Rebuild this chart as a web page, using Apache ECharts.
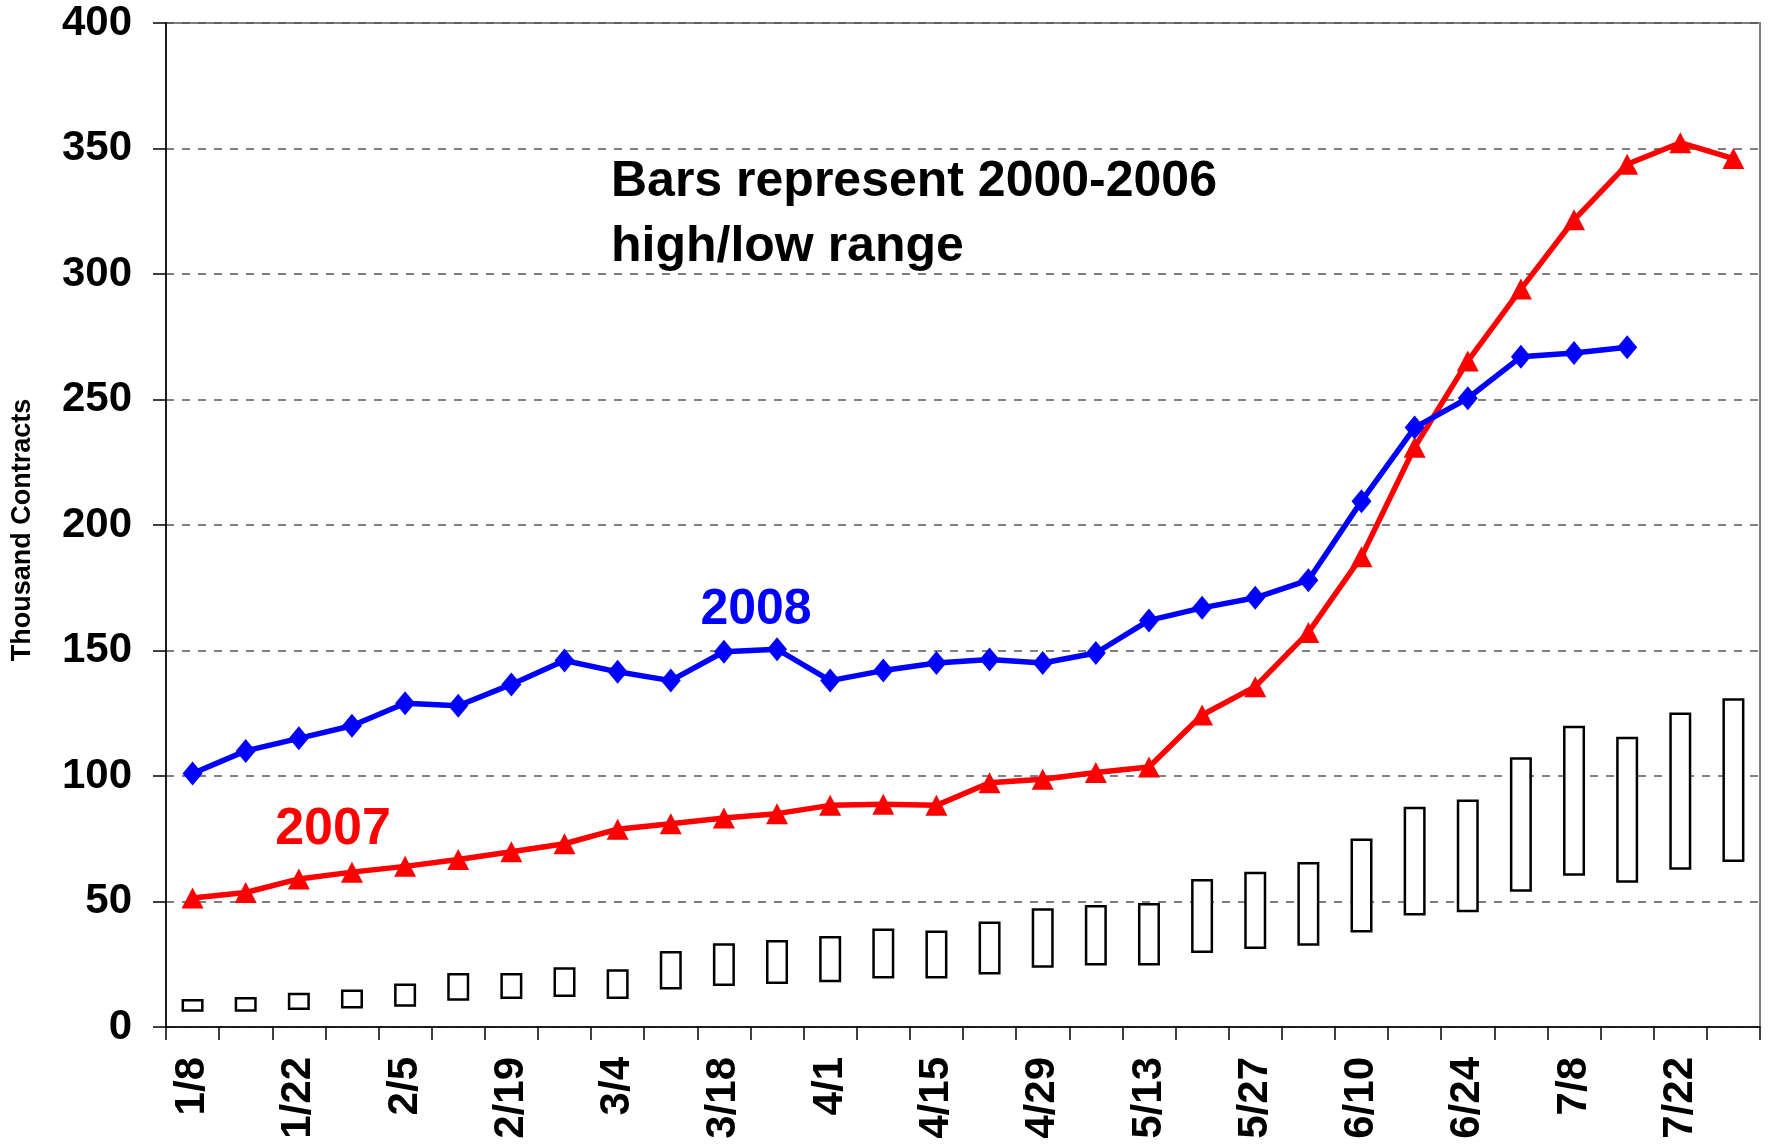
<!DOCTYPE html>
<html>
<head>
<meta charset="utf-8">
<script src="https://cdn.jsdelivr.net/npm/echarts@6/dist/echarts.min.js"></script>
<style>
  html, body { margin: 0; padding: 0; background: #fff; }
  #chart { width: 1771px; height: 1144px; }
</style>
</head>
<body>
<div id="chart"></div>
<script>
// weekly dates
const weeks = ['1/8', '1/15', '1/22', '1/29', '2/5', '2/12', '2/19', '2/26', '3/4', '3/11',
  '3/18', '3/25', '4/1', '4/8', '4/15', '4/22', '4/29', '5/6', '5/13', '5/20',
  '5/27', '6/3', '6/10', '6/17', '6/24', '7/1', '7/8', '7/15', '7/22', '7/29'];

// 2000-2006 high/low range
const rangeLow = [6.1, 6.1, 6.8, 7.4, 8.1, 10.5, 11.2, 12.0, 11.2, 14.9,
  16.3, 17.1, 17.8, 19.3, 19.3, 20.9, 23.6, 24.5, 24.5, 29.5,
  31.1, 32.4, 37.6, 44.4, 45.7, 53.9, 60.3, 57.5, 62.6, 65.7];
const rangeHigh = [11.2, 12.0, 13.6, 14.9, 17.3, 21.5, 21.5, 23.8, 23.0, 30.3,
  33.4, 34.7, 36.3, 39.2, 38.4, 42.0, 47.3, 48.6, 49.4, 59.0,
  61.9, 65.7, 75.1, 87.7, 90.6, 107.5, 120.0, 115.6, 125.3, 131.0];

const y2007 = [51.4, 53.6, 59, 61.7, 64, 66.7, 69.8, 73, 78.8, 81,
  83.3, 85, 88.3, 88.7, 88.3, 97.3, 98.7, 101.4, 103.6, 124.3,
  135.6, 157.2, 187.4, 231, 265.3, 294, 321.6, 343.7, 352.3, 346];
const y2008 = [101, 110, 115, 120, 129, 128, 136.5, 146, 141.5, 138,
  149.5, 150.5, 138, 142, 145, 146.4, 145, 149, 162, 167,
  171, 178, 209.5, 238.8, 250.5, 267, 268.5, 270.8, null, null];

const yTicks = { min: 0, max: 400, interval: 50 };

const FONT = 'Liberation Sans, Arial, sans-serif';

const chart = echarts.init(document.getElementById('chart'));

chart.setOption({
  animation: false,
  backgroundColor: '#fff',
  grid: {
    left: 166,
    right: 11,
    top: 23,
    bottom: 117,
    show: true,
    borderColor: '#808080',
    borderWidth: 2
  },
  xAxis: {
    type: 'category',
    data: weeks,
    boundaryGap: true,
    axisLine: { lineStyle: { color: '#000', width: 1.5 } },
    axisTick: { show: true, interval: 0, length: 13, lineStyle: { color: '#000', width: 1.5 } },
    axisLabel: {
      interval: 1,
      rotate: 90,
      margin: 30,
      color: '#000',
      fontSize: 42,
      fontWeight: 'bold',
      fontFamily: FONT
    },
    splitLine: { show: false }
  },
  yAxis: {
    type: 'value',
    min: yTicks.min,
    max: yTicks.max,
    interval: yTicks.interval,
    axisLine: { show: true, lineStyle: { color: '#000', width: 1.5 } },
    axisTick: { show: true, length: 13, lineStyle: { color: '#000', width: 1.5 } },
    axisLabel: {
      margin: 34,
      color: '#000',
      fontSize: 42,
      fontWeight: 'bold',
      fontFamily: FONT
    },
    splitLine: {
      show: true,
      lineStyle: { color: '#555', width: 1.5, type: [8, 8] }
    }
  },
  graphic: [
    {
      type: 'text', x: 23, y: 530, rotation: Math.PI / 2,
      style: {
        text: 'Thousand Contracts', fill: '#000',
        font: 'bold 27px ' + FONT, align: 'center', verticalAlign: 'middle'
      }
    },
    {
      type: 'text', x: 611, y: 182,
      style: {
        text: 'Bars represent 2000-2006', fill: '#000',
        font: 'bold 50px ' + FONT, align: 'left', verticalAlign: 'middle'
      }
    },
    {
      type: 'text', x: 611, y: 247,
      style: {
        text: 'high/low range', fill: '#000',
        font: 'bold 50px ' + FONT, align: 'left', verticalAlign: 'middle'
      }
    },
    {
      type: 'text', x: 756, y: 610,
      style: {
        text: '2008', fill: '#0000ff',
        font: 'bold 50px ' + FONT, align: 'center', verticalAlign: 'middle'
      }
    },
    {
      type: 'text', x: 333, y: 830,
      style: {
        text: '2007', fill: '#ff0000',
        font: 'bold 52px ' + FONT, align: 'center', verticalAlign: 'middle'
      }
    }
  ],
  series: [
    {
      name: 'low',
      type: 'bar',
      stack: 'range',
      barWidth: 22,
      itemStyle: { color: 'transparent' },
      data: rangeLow
    },
    {
      name: '2000-2006 range',
      type: 'bar',
      stack: 'range',
      barWidth: 22,
      itemStyle: { color: '#fff', borderColor: '#000', borderWidth: 2.5 },
      data: rangeHigh.map((h, i) => +(h - rangeLow[i]).toFixed(1))
    },
    {
      name: '2007',
      type: 'line',
      data: y2007,
      symbol: 'triangle',
      symbolSize: [22, 21],
      lineStyle: { color: '#ff0000', width: 5.5 },
      itemStyle: { color: '#ff0000' },
      z: 3
    },
    {
      name: '2008',
      type: 'line',
      data: y2008,
      symbol: 'diamond',
      symbolSize: [20, 24],
      lineStyle: { color: '#0000ff', width: 5.5 },
      itemStyle: { color: '#0000ff' },
      z: 4
    }
  ]
});
</script>
</body>
</html>
